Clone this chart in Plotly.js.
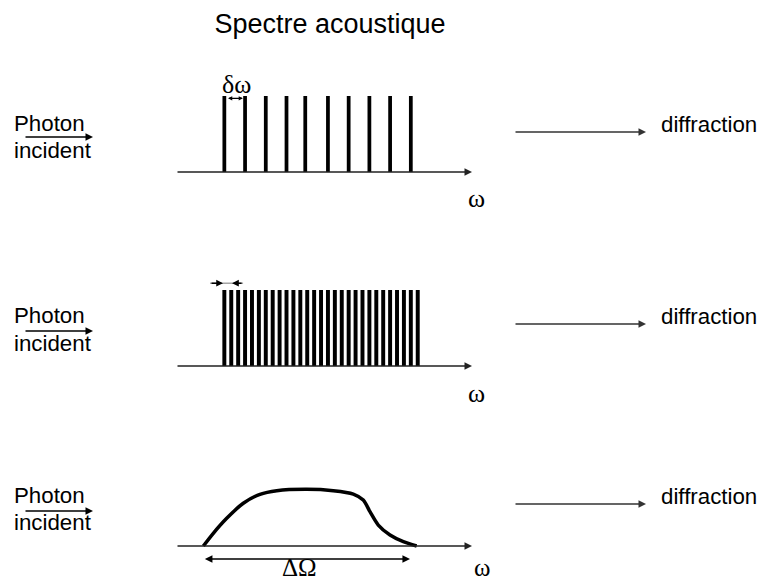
<!DOCTYPE html>
<html><head><meta charset="utf-8">
<script src="https://cdn.plot.ly/plotly-3.0.1.min.js"></script>
<style>html,body{margin:0;padding:0;background:#fff}</style>
</head><body><div id="chart" style="width:762px;height:583px"></div>
<script>
// ---------- data ----------
const titleText = "Spectre acoustique";
const inLabels = ["Photon", "incident"];
const outLabel = "diffraction";
const axisLabel = "ω";
const combSpacingLabel = "δω";
const bandLabel = "ΔΩ";

// panel 1 : sparse comb (ω, arbitrary units)
const sparseOmega = [4.9, 7.0, 9.1, 11.2, 13.1, 15.4, 17.5, 19.6, 21.7, 23.8];
const sparseAmp   = [1, 1, 1, 1, 1, 1, 1, 1, 1, 1];

// panel 2 : dense comb
const denseOmega = [4.9, 5.6, 6.3, 7.0, 7.7, 8.4, 9.1, 9.8, 10.5, 11.2,
                    11.9, 12.6, 13.3, 14.0, 14.7, 15.4, 16.1, 16.8, 17.5, 18.2,
                    18.9, 19.6, 20.3, 21.0, 21.7, 22.4, 23.1, 23.8, 24.5];
const denseAmp   = [1, 1, 1, 1, 1, 1, 1, 1, 1, 1,
                    1, 1, 1, 1, 1, 1, 1, 1, 1, 1,
                    1, 1, 1, 1, 1, 1, 1, 1, 1];

// panel 3 : continuous spectrum
const contOmega = [2.77, 3.78, 5.14, 6.82, 8.51, 10.21, 13.25, 15.94, 17.97, 18.98, 19.66, 20.50, 21.69, 23.04, 24.39];
const contAmp   = [0, 0.167, 0.364, 0.562, 0.680, 0.728, 0.746, 0.728, 0.684, 0.605, 0.451, 0.276, 0.145, 0.057, 0];

const omegaMax = 30;
const bandEdges = [2.77, 23.72];

// ---------- layout helpers ----------
const W = 762, H = 583;
const SANS = "Liberation Sans, Arial, sans-serif";
const SERIF = "Liberation Serif, Times New Roman, serif";
const px = v => v / W;
const py = v => 1 - v / H;
const yMin = -0.45, yMax = 1.2, unitPx = 76;
const baselines = [172, 366, 546];
const axX0 = 176, axX1 = 472;

const layout = {
  width: W, height: H,
  margin: {l: 0, r: 0, t: 0, b: 0},
  paper_bgcolor: '#fff', plot_bgcolor: 'rgba(0,0,0,0)',
  showlegend: false, barmode: 'overlay',
  title: {
    text: titleText, font: {family: SANS, size: 27, color: '#000'},
    x: px(330), xanchor: 'center', xref: 'paper',
    y: py(33 - 0.347 * 27), yanchor: 'middle', yref: 'container'
  },
  annotations: [], shapes: []
};

baselines.forEach((b, i) => {
  const s = i === 0 ? '' : String(i + 1);
  layout['xaxis' + s] = {domain: [px(axX0), px(axX1)], range: [0, omegaMax], visible: false,
                         fixedrange: true, anchor: 'y' + s};
  layout['yaxis' + s] = {domain: [py(b - yMax * unitPx), py(b - yMin * unitPx)].sort((a, c) => a - c),
                         range: [yMin, yMax], visible: false, fixedrange: true, anchor: 'x' + s};
});

function text(t, x, baseline, size, family, xanchor) {
  const asc = family === SERIF ? 0.3375 : 0.347;
  layout.annotations.push({
    text: t, xref: 'paper', yref: 'paper', x: px(x), y: py(baseline - asc * size),
    xanchor: xanchor, yanchor: 'middle', showarrow: false, borderpad: 0,
    font: {family: family, size: size, color: '#000'}
  });
}
function pxArrow(x0, x1, y, color, w, s) {
  layout.annotations.push({
    text: '', xref: 'paper', yref: 'paper', x: px(x1), y: py(y), ax: x0 - x1, ay: 0,
    showarrow: true, arrowhead: 2, arrowsize: s, arrowwidth: w, arrowcolor: color
  });
}
function dataArrow(s, x0, x1, y, opts) {
  layout.annotations.push(Object.assign({
    text: '', xref: 'x' + s, yref: 'y' + s, axref: 'x' + s, ayref: 'y' + s,
    x: x1, y: y, ax: x0, ay: y, showarrow: true, arrowhead: 2, arrowsize: 1.15,
    arrowwidth: 1.3, arrowcolor: '#222'
  }, opts || {}));
}

// side labels and arrows
const photonBase = [131, 323, 503], incidentBase = [158, 351, 530];
const photonArrowY = [137, 331, 511], diffY = [132, 324, 504];
[0, 1, 2].forEach(i => {
  text(inLabels[0], 13, photonBase[i], 22.3, SANS, 'left');
  text(inLabels[1], 13, incidentBase[i], 22.3, SANS, 'left');
  pxArrow(24, 93, photonArrowY[i], '#000', 1.3, 1.15);
  pxArrow(514, 646, diffY[i], '#333', 1.3, 1.15);
  text(outLabel, 660, diffY[i], 22.3, SANS, 'left');
  const s = i === 0 ? '' : String(i + 1);
  dataArrow(s, 0, omegaMax, 0);
});

// ω labels
text(axisLabel, 476, 207, 26, SERIF, 'center');
text(axisLabel, 476, 402, 26, SERIF, 'center');
text(axisLabel, 482, 576, 25, SERIF, 'center');

// δω
text(combSpacingLabel, 236, 93, 26, SERIF, 'center');
dataArrow('', sparseOmega[0] + 0.22, sparseOmega[1] - 0.22, 0.97,
  {arrowside: 'end+start', startarrowhead: 2, arrowsize: 0.7, startarrowsize: 0.7, arrowwidth: 1.2, arrowcolor: '#000'});

// inward arrows on dense comb
layout.shapes.push({type: 'line', xref: 'x2', yref: 'y2', x0: denseOmega[0] - 1.45, x1: denseOmega[1] + 1.2,
  y0: 1.09, y1: 1.09, line: {color: '#777', width: 1}});
dataArrow('2', denseOmega[0] - 1.45, denseOmega[0] - 0.14, 1.09, {arrowsize: 0.9, arrowwidth: 1.5, arrowcolor: '#000'});
dataArrow('2', denseOmega[1] + 1.2, denseOmega[1] + 0.08, 1.09, {arrowsize: 0.9, arrowwidth: 1.5, arrowcolor: '#000'});

// ΔΩ
dataArrow('3', bandEdges[0], bandEdges[1], -0.171,
  {arrowside: 'end+start', startarrowhead: 2, arrowsize: 0.95, startarrowsize: 0.95, arrowwidth: 1.6, arrowcolor: '#000'});
text(bandLabel, 299, 576, 25, SERIF, 'center');

const traces = [
  {type: 'bar', x: sparseOmega, y: sparseAmp, xaxis: 'x', yaxis: 'y', width: 0.38,
   marker: {color: '#000', line: {width: 0}}, hoverinfo: 'skip'},
  {type: 'bar', x: denseOmega, y: denseAmp, xaxis: 'x2', yaxis: 'y2', width: 0.4,
   marker: {color: '#000', line: {width: 0}}, hoverinfo: 'skip'},
  {type: 'scatter', mode: 'lines', x: contOmega, y: contAmp, xaxis: 'x3', yaxis: 'y3',
   line: {color: '#000', width: 3.5, shape: 'spline', smoothing: 0.8}, hoverinfo: 'skip'}
];

Plotly.newPlot('chart', traces, layout, {staticPlot: true, displayModeBar: false});
</script>
</body></html>
